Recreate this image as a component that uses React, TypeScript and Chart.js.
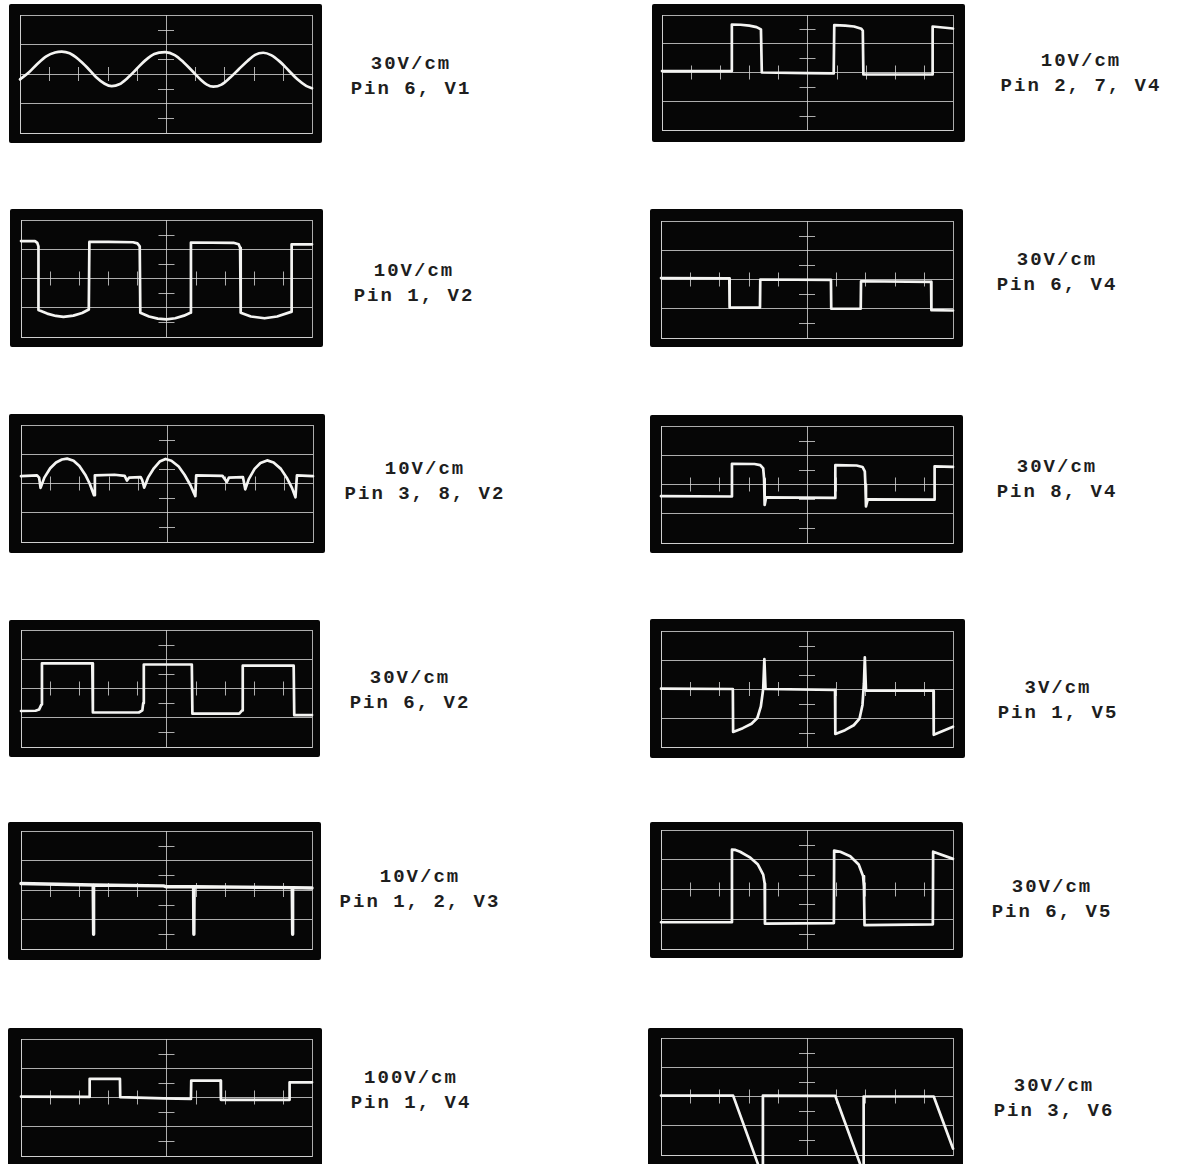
import React, { useEffect, useRef } from "react";
import { Chart, registerables } from "chart.js";

Chart.register(...registerables);

type Pt = [number, number];

// ---- Trace data: [horizontal division, vertical division] (graticule 10 x 4 div, 0 = centre line)
const tracePin6V1: Pt[] = [
  [0, -0.18], [0.3, 0.05], [0.6, 0.35], [0.9, 0.6], [1.2, 0.73], [1.43, 0.76], [1.7, 0.7], [2.0, 0.5],
  [2.3, 0.22], [2.6, -0.1], [2.9, -0.33], [3.14, -0.41], [3.4, -0.35], [3.7, -0.12], [4.0, 0.18],
  [4.3, 0.47], [4.6, 0.68], [4.97, 0.74], [5.3, 0.64], [5.6, 0.4], [5.9, 0.1], [6.2, -0.2], [6.4, -0.36],
  [6.62, -0.43], [6.9, -0.36], [7.2, -0.12], [7.5, 0.17], [7.8, 0.45], [8.05, 0.65], [8.33, 0.72],
  [8.6, 0.64], [8.9, 0.42], [9.2, 0.12], [9.5, -0.18], [9.8, -0.4], [10, -0.48],
];
const tracePin1V2: Pt[] = [
  [0, 1.28], [0.48, 1.28], [0.56, 1.22], [0.6, 1.1], [0.6, -1.08], [0.9, -1.2], [1.2, -1.28], [1.46, -1.31],
  [1.8, -1.27], [2.1, -1.18], [2.33, -1.06], [2.35, 1.25], [3.0, 1.25], [3.85, 1.24], [4.0, 1.2], [4.08, 1.1],
  [4.1, -1.17], [4.4, -1.3], [4.7, -1.37], [5.0, -1.4], [5.3, -1.36], [5.6, -1.27], [5.82, -1.17],
  [5.84, 1.23], [7.3, 1.22], [7.48, 1.17], [7.53, 1.05], [7.55, -1.17], [7.9, -1.3], [8.37, -1.36],
  [8.8, -1.3], [9.28, -1.14], [9.3, 1.17], [10, 1.17],
];
const tracePin38V2: Pt[] = [
  [0, 0.25], [0.55, 0.28], [0.62, 0.2], [0.67, -0.15], [0.8, 0.2], [1.0, 0.52], [1.2, 0.72], [1.4, 0.82],
  [1.58, 0.85], [1.8, 0.78], [2.0, 0.6], [2.2, 0.3], [2.35, 0.0], [2.5, -0.4], [2.53, 0.28], [3.2, 0.3],
  [3.55, 0.26], [3.63, 0.1], [3.7, 0.2], [4.1, 0.22], [4.15, 0.12], [4.22, -0.14], [4.35, 0.2], [4.55, 0.52],
  [4.75, 0.75], [4.95, 0.84], [5.15, 0.78], [5.4, 0.58], [5.6, 0.3], [5.8, -0.05], [5.97, -0.43],
  [6.0, 0.28], [6.9, 0.26], [7.05, 0.05], [7.12, 0.2], [7.6, 0.22], [7.68, -0.2], [7.8, 0.15], [8.0, 0.5],
  [8.2, 0.7], [8.43, 0.79], [8.65, 0.72], [8.9, 0.5], [9.1, 0.2], [9.28, -0.15], [9.4, -0.47],
  [9.45, 0.28], [10, 0.25],
];
const tracePin6V2: Pt[] = [
  [0, -0.77], [0.5, -0.76], [0.62, -0.72], [0.7, -0.55], [0.72, 0.86], [2.45, 0.86], [2.47, -0.82],
  [4.05, -0.82], [4.17, -0.75], [4.2, -0.5], [4.22, 0.82], [5.87, 0.82], [5.89, -0.86], [7.5, -0.86],
  [7.6, -0.75], [7.62, 0.78], [9.37, 0.78], [9.39, -0.91], [10, -0.91],
];
const tracePin12V3: Pt[] = [
  [0, 0.22], [2.48, 0.17], [2.49, -1.5], [2.5, 0.17], [4.9, 0.14], [5.0, 0.11], [5.93, 0.11],
  [5.94, -1.5], [5.95, 0.11], [9.32, 0.08], [9.33, -1.5], [9.34, 0.08], [10, 0.07],
];
const tracePin1V4: Pt[] = [
  [0, 0.03], [2.34, 0.02], [2.36, 0.64], [3.4, 0.64], [3.41, 0.01], [4.9, -0.03], [5.84, -0.05],
  [5.85, 0.58], [6.86, 0.58], [6.87, -0.08], [9.22, -0.08], [9.23, 0.52], [10, 0.52],
];
const tracePin27V4: Pt[] = [
  [0, 0.05], [2.38, 0.05], [2.4, 1.67], [2.7, 1.66], [3.0, 1.63], [3.25, 1.58], [3.4, 1.5], [3.43, 0.0],
  [5.0, -0.02], [5.9, -0.03], [5.92, 1.65], [6.3, 1.63], [6.6, 1.6], [6.85, 1.52], [6.9, 1.45],
  [6.92, -0.07], [9.28, -0.07], [9.3, 1.6], [10, 1.53],
];
const tracePin6V4: Pt[] = [
  [0, 0.05], [2.34, 0.04], [2.35, -0.96], [3.39, -0.96], [3.4, 0.0], [5.82, -0.01], [5.83, -1.0],
  [6.84, -1.0], [6.85, -0.06], [9.25, -0.08], [9.26, -1.05], [10, -1.06],
];
const tracePin8V4: Pt[] = [
  [0, -0.4], [2.42, -0.41], [2.43, 0.71], [3.2, 0.7], [3.4, 0.66], [3.5, 0.55], [3.53, 0.2], [3.55, -0.7],
  [3.6, -0.44], [5.96, -0.46], [5.97, 0.66], [6.7, 0.65], [6.9, 0.6], [6.98, 0.45], [7.0, 0.0],
  [7.02, -0.75], [7.08, -0.51], [9.36, -0.52], [9.37, 0.62], [10, 0.6],
];
const tracePin1V5: Pt[] = [
  [0, 0.01], [2.46, 0.0], [2.47, -1.48], [2.8, -1.35], [3.1, -1.2], [3.3, -1.0], [3.42, -0.6], [3.5, 0.0],
  [3.54, 1.03], [3.58, 0.0], [5.96, -0.03], [5.97, -1.55], [6.3, -1.42], [6.6, -1.25], [6.8, -1.02],
  [6.9, -0.55], [6.95, 0.2], [6.98, 1.09], [7.02, -0.06], [9.33, -0.06], [9.34, -1.58], [10, -1.3],
];
const tracePin6V5: Pt[] = [
  [0, -1.1], [2.42, -1.1], [2.43, 1.34], [2.55, 1.33], [2.71, 1.27], [3.06, 1.07], [3.32, 0.84],
  [3.5, 0.5], [3.55, 0.2], [3.56, -1.15], [5.92, -1.13], [5.93, 1.31], [6.14, 1.27], [6.48, 1.12],
  [6.77, 0.84], [6.92, 0.45], [6.95, 0.1], [6.97, -1.2], [9.31, -1.17], [9.32, 1.27], [10, 1.03],
];
const tracePin3V6: Pt[] = [
  [0, 0.03], [2.47, 0.03], [3.37, -2.45], [3.49, -2.45], [3.49, 0.03], [5.97, 0.02], [6.87, -2.45],
  [6.94, -2.45], [6.94, 0.0], [9.34, 0.0], [10, -1.78],
];

// ---- Labels
const sensitivityLabels = [
  "30V/cm", "10V/cm", "10V/cm", "30V/cm", "10V/cm", "100V/cm",
  "10V/cm", "30V/cm", "30V/cm", "3V/cm", "30V/cm", "30V/cm",
];
const pinLabels = [
  "Pin 6, V1", "Pin 1, V2", "Pin 3, 8, V2", "Pin 6, V2", "Pin 1, 2, V3", "Pin 1, V4",
  "Pin 2, 7, V4", "Pin 6, V4", "Pin 8, V4", "Pin 1, V5", "Pin 6, V5", "Pin 3, V6",
];
const traces: Pt[][] = [
  tracePin6V1, tracePin1V2, tracePin38V2, tracePin6V2, tracePin12V3, tracePin1V4,
  tracePin27V4, tracePin6V4, tracePin8V4, tracePin1V5, tracePin6V5, tracePin3V6,
];

// ---- Graticule tick marks (divisions)
const xMinorTicks = [1, 2, 3, 4, 6, 7, 8, 9];
const yMinorTicks = [-1.5, -0.5, 0.5, 1.5];
const xMajor = [0, 5, 10];

// ---- Layout (page pixels): black box [left, top, right, bottom], graticule [left, top, right, bottom], label [cx, firstLineCenterY]
const boxes: number[][] = [
  [9, 4, 322, 143], [10, 209, 323, 347], [9, 414, 325, 553], [9, 620, 320, 757], [8, 822, 321, 960], [8, 1028, 322, 1172],
  [652, 4, 965, 142], [650, 209, 963, 347], [650, 415, 963, 553], [650, 619, 965, 758], [650, 822, 963, 958], [648, 1028, 963, 1172],
];
const grats: number[][] = [
  [20, 15, 312, 133], [21, 220, 312, 337], [21, 425, 313, 542], [21, 630, 312, 747], [21, 831, 312, 949], [21, 1039, 312, 1156],
  [662, 15, 953, 130], [661, 221, 953, 338], [661, 426, 953, 543], [661, 631, 953, 747], [661, 830, 953, 949], [661, 1038, 953, 1155],
];
const labelPos: number[][] = [
  [411, 64], [414, 271], [425, 469], [410, 678], [420, 877], [411, 1078],
  [1081, 61], [1057, 260], [1057, 467], [1058, 688], [1052, 887], [1054, 1086],
];

const GRID = "rgba(215,215,215,0.8)";
const TRACE = "#f4f4f2";

const graticulePlugin = {
  id: "graticule",
  beforeDatasetsDraw(chart: any) {
    const { ctx } = chart;
    const x = chart.scales.x;
    const y = chart.scales.y;
    const cy = y.getPixelForValue(0);
    const cx = x.getPixelForValue(5);
    ctx.save();
    ctx.strokeStyle = GRID;
    ctx.lineWidth = 1;
    ctx.beginPath();
    for (const v of xMinorTicks) {
      const px = Math.round(x.getPixelForValue(v)) + 0.5;
      ctx.moveTo(px, cy - 7);
      ctx.lineTo(px, cy + 7);
    }
    for (const v of yMinorTicks) {
      const py = Math.round(y.getPixelForValue(v)) + 0.5;
      ctx.moveTo(cx - 8, py);
      ctx.lineTo(cx + 8, py);
    }
    ctx.stroke();
    ctx.restore();
  },
};

function Scope({ idx }: { idx: number }) {
  const ref = useRef<HTMLCanvasElement>(null);
  const [bl, bt, br, bb] = boxes[idx];
  const [gl, gt, gr, gb] = grats[idx];
  const w = br - bl;
  const h = bb - bt;
  useEffect(() => {
    if (!ref.current) return;
    const chart = new Chart(ref.current, {
      type: "line",
      data: {
        datasets: [
          {
            data: traces[idx].map(([x, y]) => ({ x, y })),
            borderColor: TRACE,
            borderWidth: idx === 4 ? 3.4 : 2.7,
            pointRadius: 0,
            tension: 0,
            cubicInterpolationMode: idx === 0 ? "monotone" : "default",
            borderJoinStyle: "round",
            borderCapStyle: "round",
            clip: 14,
          } as any,
        ],
      },
      options: {
        animation: false,
        responsive: false,
        maintainAspectRatio: false,
        devicePixelRatio: 1,
        events: [],
        layout: { padding: { left: gl - bl, top: gt - bt, right: br - gr, bottom: bb - gb } },
        plugins: { legend: { display: false }, tooltip: { enabled: false }, title: { display: false } },
        scales: {
          x: {
            type: "linear",
            min: 0,
            max: 10,
            ticks: { display: false, stepSize: 1, padding: 0 },
            grid: {
              color: (c: any) => (c.tick && xMajor.includes(c.tick.value) ? GRID : "rgba(0,0,0,0)"),
              drawTicks: false,
              lineWidth: 1,
            },
            border: { display: true, color: GRID, width: 1 },
          },
          y: {
            type: "linear",
            min: -2,
            max: 2,
            ticks: { display: false, stepSize: 1, padding: 0 },
            grid: { color: GRID, drawTicks: false, lineWidth: 1 },
            border: { display: true, color: GRID, width: 1 },
          },
        },
      } as any,
      plugins: [graticulePlugin],
    });
    return () => chart.destroy();
  }, [idx]);
  return (
    <canvas
      ref={ref}
      width={w}
      height={h}
      style={{ position: "absolute", left: bl, top: bt, width: w, height: h, background: "#060606", borderRadius: 2 }}
    />
  );
}

function Label({ idx }: { idx: number }) {
  const [cx, cy] = labelPos[idx];
  return (
    <div
      style={{
        position: "absolute",
        left: cx,
        top: cy - 12.5,
        transform: "translateX(-50%)",
        textAlign: "center",
        whiteSpace: "nowrap",
        fontFamily: "'Liberation Mono', 'DejaVu Sans Mono', monospace",
        fontSize: 19,
        lineHeight: "25px",
        letterSpacing: "2px",
        color: "#1e1e1e",
        fontWeight: 600,
      }}
    >
      <div>{sensitivityLabels[idx]}</div>
      <div>{pinLabels[idx]}</div>
    </div>
  );
}

export default function App() {
  const ids = traces.map((_, i) => i);
  return (
    <div
      style={{
        position: "fixed",
        left: 0,
        top: 0,
        width: 1181,
        height: 1164,
        overflow: "hidden",
        background: "#ffffff",
      }}
    >
      {ids.map((i) => (
        <Scope key={"s" + i} idx={i} />
      ))}
      {ids.map((i) => (
        <Label key={"l" + i} idx={i} />
      ))}
    </div>
  );
}
